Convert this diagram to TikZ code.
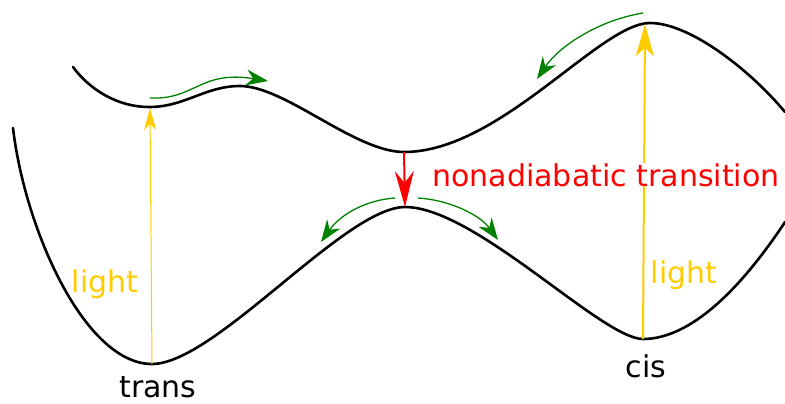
\documentclass[tikz,border=0pt]{standalone}
\usepackage{fontspec}
\setmainfont{DejaVu Sans}
\usetikzlibrary{arrows.meta}
\definecolor{lightyellow}{HTML}{FFCC00}
\definecolor{kickgreen}{HTML}{008000}
\begin{document}
\begin{tikzpicture}[
  x=0.5pt, y=-0.5pt,
  surface/.style={draw, line width=1.3pt, line cap=round},
  kick/.style={draw=kickgreen, line width=0.65pt, -{Stealth[length=11pt, width=8pt, inset=3.5pt]}},
  hop/.style={draw=red, line width=1pt, -{Stealth[length=18pt, width=9.5pt, inset=6pt]}},
  excite/.style={draw=lightyellow, -{Stealth[length=11pt, width=6pt, inset=3pt]}},
  tag/.style={anchor=base, inner sep=0pt, font=\fontsize{15}{18}\selectfont}
]
\useasboundingbox (0,0) rectangle (785,403);
% ground state
\coordinate (lowA) at (13,128);
\coordinate (transmin) at (152,364);
\coordinate (barrier) at (405,207);
\coordinate (cismin) at (643,339);
\coordinate (lowB) at (785,222);
% excited state
\coordinate (upA) at (73,67);
\coordinate (upmin) at (149,107);
\coordinate (upbump) at (240,86);
\coordinate (ci) at (404,152);
\coordinate (uptop) at (650,23);
\coordinate (upB) at (785,112);
\draw[surface] (lowA) .. controls (25,230) and (85,364) .. (transmin)
  .. controls (215,364) and (345,207) .. (barrier)
  .. controls (475,207) and (602,339) .. (cismin)
  .. controls (690,339) and (740,290) .. (lowB);
\draw[surface] (upA) .. controls (90,90) and (118,107) .. (upmin)
  .. controls (185,107) and (205,86) .. (upbump)
  .. controls (285,86) and (355,152) .. (ci)
  .. controls (500,152) and (600,23) .. (uptop)
  .. controls (690,23) and (750,70) .. (upB);
% labels
\node[tag] (trans) at (158,397) {trans};
\node[tag] (cis) at (646,377) {cis};
\node[tag, text=lightyellow] (lightL) at (105,292) {light};
\node[tag, text=lightyellow] (lightR) at (684,283) {light};
% excitation
\coordinate (exL) at (150,108);
\coordinate (exR) at (645,24);
\draw[excite, line width=0.5pt] (transmin) -- (exL);
\draw[excite, line width=1pt, -{Stealth[length=16pt, width=9pt, inset=4pt]}] (cismin) -- (exR);
\node[tag, anchor=base west, fill=white, text=red] (nat) at (432,186) {nonadiabatic transition};
% decay through the intersection
\draw[hop] (ci) -- (barrier);
% motion on the surfaces
\coordinate (k1a) at (150,98);
\coordinate (k1b) at (268,81);
\coordinate (k2a) at (643,13);
\coordinate (k2b) at (537,79);
\coordinate (k3a) at (395,198);
\coordinate (k3b) at (321,242);
\coordinate (k4a) at (418,198);
\coordinate (k4b) at (498,240);
\draw[kick] (k1a) .. controls (195,100) and (200,70) .. (k1b);
\draw[kick] (k2a) .. controls (600,20) and (560,45) .. (k2b);
\draw[kick] (k3a) .. controls (365,200) and (340,215) .. (k3b);
\draw[kick] (k4a) .. controls (450,200) and (480,215) .. (k4b);
\end{tikzpicture}
\end{document}
